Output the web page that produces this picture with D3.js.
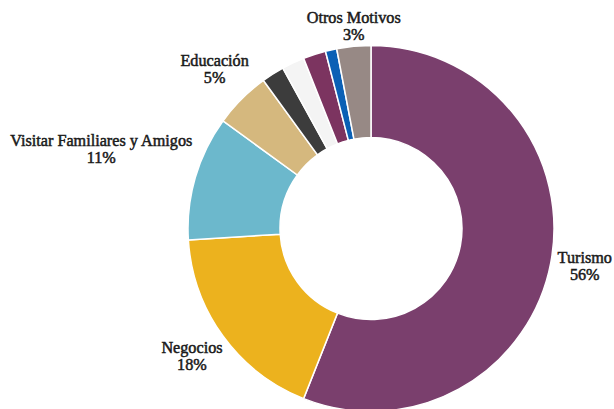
<!DOCTYPE html>
<html>
<head>
<meta charset="utf-8">
<script src="https://cdn.jsdelivr.net/npm/d3@7"></script>
<style>
  html, body { margin: 0; padding: 0; background: #ffffff; }
  svg { display: block; }
  .lbl { font-family: "Liberation Serif", "DejaVu Serif", serif; font-size: 16.2px; fill: #1a1a1a; stroke: #1a1a1a; stroke-width: 0.5px; }
</style>
</head>
<body>
<svg id="chart" width="614" height="409"></svg>
<script>
// Motivo de viaje (share, %), clockwise from 12 o'clock
const categories = ["Turismo", "Negocios", "Visitar Familiares y Amigos", "Educación",
                    "Salud", "Religión", "Compras", "Tránsito", "Otros Motivos"];
const values = [56, 18, 11, 5, 2, 2, 2, 1, 3];
const colors = ["#7a3f6d", "#ecb21e", "#6cb8cc", "#d5b87e",
                "#3c3c3c", "#f4f4f4", "#7c3460", "#0b60b5", "#978985"];
// only these slices carry a label
const labelled = ["Turismo", "Negocios", "Visitar Familiares y Amigos", "Educación", "Otros Motivos"];
// label nudges [dx, dy] from the slice's outer mid-point to the label's centre / first baseline
const labelNudge = {
  "Turismo": [34, 0],
  "Negocios": [-31, 17],
  "Visitar Familiares y Amigos": [-94, -31],
  "Educación": [-27, -33],
  "Otros Motivos": [0, -23]
};

const cx = 371, cy = 228.5, outerR = 183, innerR = 91;
const data = categories.map((c, i) => ({ name: c, value: values[i], color: colors[i] }));

const svg = d3.select("#chart");
const g = svg.append("g").attr("transform", `translate(${cx},${cy})`);

const pie = d3.pie().value(d => d.value).sort(null).startAngle(0).endAngle(2 * Math.PI);
const arc = d3.arc().innerRadius(innerR).outerRadius(outerR);
const arcs = pie(data);

g.selectAll("path.slice")
  .data(arcs)
  .join("path")
  .attr("class", "slice")
  .attr("d", arc)
  .attr("fill", d => d.data.color)
  .attr("stroke", "#ffffff")
  .attr("stroke-width", 1.5)
  .attr("stroke-linejoin", "miter");

const lab = g.selectAll("text.lbl")
  .data(arcs.filter(d => labelled.includes(d.data.name)))
  .join("text")
  .attr("class", "lbl")
  .attr("text-anchor", "middle")
  .attr("transform", d => {
    const a = (d.startAngle + d.endAngle) / 2;
    const px = Math.sin(a) * outerR, py = -Math.cos(a) * outerR;
    const n = labelNudge[d.data.name];
    return `translate(${px + n[0]},${py + n[1]})`;
  });

lab.append("tspan").attr("x", 0).attr("y", 0).text(d => d.data.name);
lab.append("tspan").attr("x", 0).attr("y", 17).text(d => d.data.value + "%");
</script>
</body>
</html>
